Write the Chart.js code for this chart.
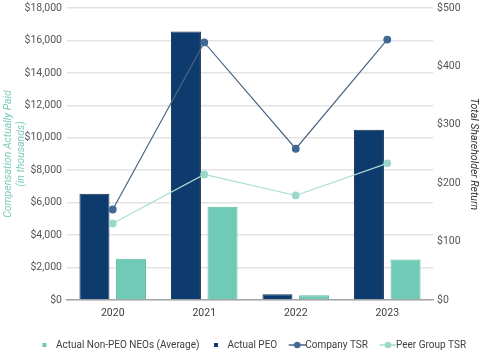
<!DOCTYPE html>
<html>
<head>
<meta charset="utf-8">
<script src="https://cdn.jsdelivr.net/npm/chart.js@4.4.1/dist/chart.umd.min.js"></script>
<style>
  html, body { margin: 0; padding: 0; background: #ffffff; }
  #wrap { width: 480px; height: 355px; }
</style>
</head>
<body>
<div id="wrap"><canvas id="c" width="480" height="355"></canvas></div>
<script>
const years = ['2020', '2021', '2022', '2023'];
const actualPEO = [6550, 16550, 350, 10500];
const actualNonPEO = [2550, 5750, 300, 2500];
const companyTSR = [155, 441, 259, 446];
const peerTSR = [131, 215, 179, 234];
const leftTicks = [0, 2000, 4000, 6000, 8000, 10000, 12000, 14000, 16000, 18000];
const rightTicks = [0, 100, 200, 300, 400, 500];

const FONT = 'Roboto, sans-serif';
const C_PEO = '#0d3b6e';
const C_NON = '#6fcab6';
const C_CO_LINE = '#4a6683';
const C_CO_PT = '#3f6893';
const C_PEER_LINE = '#a9ddd1';
const C_PEER_PT = '#9cd8ca';

function squareMarker(color) {
  const cv = document.createElement('canvas');
  cv.width = 28; cv.height = 10;
  const g = cv.getContext('2d');
  g.fillStyle = color;
  g.fillRect(14, 3, 4, 4);
  return cv;
}
function lineMarker(lineColor, ptColor) {
  const cv = document.createElement('canvas');
  cv.width = 28; cv.height = 10;
  const g = cv.getContext('2d');
  g.strokeStyle = lineColor;
  g.lineWidth = 1.5;
  g.beginPath(); g.moveTo(11, 5); g.lineTo(28, 5); g.stroke();
  g.fillStyle = ptColor;
  g.beginPath(); g.arc(19.5, 5, 3.3, 0, Math.PI * 2); g.fill();
  return cv;
}

const legendRank = { 'Actual Non-PEO NEOs (Average)': 0, 'Actual PEO': 1, 'Company TSR': 2, 'Peer Group TSR': 3 };

const shiftLegend = {
  id: 'shiftLegend',
  afterLayout(chart) {
    if (chart.legend) { chart.legend.left += 10; chart.legend.right += 10; }
  }
};

function noVPad(axis) { axis.paddingTop = 0; axis.paddingBottom = 0; }

new Chart(document.getElementById('c'), {
  data: {
    labels: years,
    datasets: [
      {
        type: 'line', label: 'Company TSR', data: companyTSR, yAxisID: 'y1', order: 0,
        borderColor: C_CO_LINE, borderWidth: 1.2, backgroundColor: C_CO_PT,
        pointBackgroundColor: C_CO_PT, pointBorderColor: C_CO_PT, pointRadius: 3.3,
        tension: 0, _marker: lineMarker(C_CO_LINE, C_CO_PT)
      },
      {
        type: 'line', label: 'Peer Group TSR', data: peerTSR, yAxisID: 'y1', order: 0,
        borderColor: C_PEER_LINE, borderWidth: 1.2, backgroundColor: C_PEER_PT,
        pointBackgroundColor: C_PEER_PT, pointBorderColor: C_PEER_PT, pointRadius: 3.3,
        tension: 0, _marker: lineMarker(C_PEER_LINE, C_PEER_PT)
      },
      {
        type: 'bar', label: 'Actual PEO', data: actualPEO, yAxisID: 'y', order: 1,
        backgroundColor: C_PEO, borderColor: '#163454', borderWidth: 1,
        categoryPercentage: 0.8, barPercentage: 0.82, _marker: squareMarker(C_PEO)
      },
      {
        type: 'bar', label: 'Actual Non-PEO NEOs (Average)', data: actualNonPEO, yAxisID: 'y', order: 1,
        backgroundColor: C_NON, borderColor: '#62b8a5', borderWidth: 1,
        categoryPercentage: 0.8, barPercentage: 0.82, _marker: squareMarker(C_NON)
      }
    ]
  },
  options: {
    responsive: false,
    animation: false,
    devicePixelRatio: 1,
    layout: { padding: { top: 8, bottom: -5, left: 0, right: 0 } },
    plugins: {
      tooltip: { enabled: false },
      legend: {
        position: 'bottom',
        labels: {
          usePointStyle: true,
          pointStyleWidth: 17,
          boxHeight: 10,
          padding: 6,
          color: '#404040',
          font: { family: FONT, size: 10 },
          generateLabels(chart) {
            const items = Chart.defaults.plugins.legend.labels.generateLabels(chart);
            items.forEach(it => { it.pointStyle = chart.data.datasets[it.datasetIndex]._marker; });
            return items;
          },
          sort: (a, b) => legendRank[a.text] - legendRank[b.text]
        }
      }
    },
    scales: {
      x: {
        afterFit(axis) { axis.height = 34; },
        grid: { display: false, drawTicks: false },
        border: { display: true, color: '#a6a6a6', width: 1.5 },
        ticks: { color: '#404040', font: { family: FONT, size: 10.5 }, padding: 7 }
      },
      y: {
        position: 'left', min: 0, max: 18000,
        afterBuildTicks(axis) { axis.ticks = leftTicks.map(v => ({ value: v })); },
        afterFit(axis) { axis.width = 67; noVPad(axis); },
        grid: { color: '#e3e3e3', lineWidth: 1.5, drawTicks: false },
        border: { display: false },
        ticks: {
          color: '#555555', font: { family: FONT, size: 10.5 }, padding: 5,
          callback: v => '$' + Number(v).toLocaleString('en-US')
        },
        title: {
          display: true,
          text: ['Compensation Actually Paid', '(in thousands)'],
          color: '#7ccbbc',
          font: { family: FONT, size: 10.5, style: 'italic' },
          padding: { top: 2, bottom: 0 }
        }
      },
      y1: {
        position: 'right', min: 0, max: 500,
        afterBuildTicks(axis) { axis.ticks = rightTicks.map(v => ({ value: v })); },
        afterFit(axis) { axis.width = 47; noVPad(axis); },
        grid: { display: false, drawTicks: false },
        border: { display: false },
        ticks: {
          color: '#555555', font: { family: FONT, size: 10.5 }, padding: 4,
          callback: v => '$' + v
        },
        title: {
          display: true,
          text: 'Total Shareholder Return',
          color: '#333333',
          font: { family: FONT, size: 10.5, style: 'italic' },
          padding: { top: 0, bottom: 2 }
        }
      }
    }
  },
  plugins: [shiftLegend]
});
</script>
</body>
</html>
